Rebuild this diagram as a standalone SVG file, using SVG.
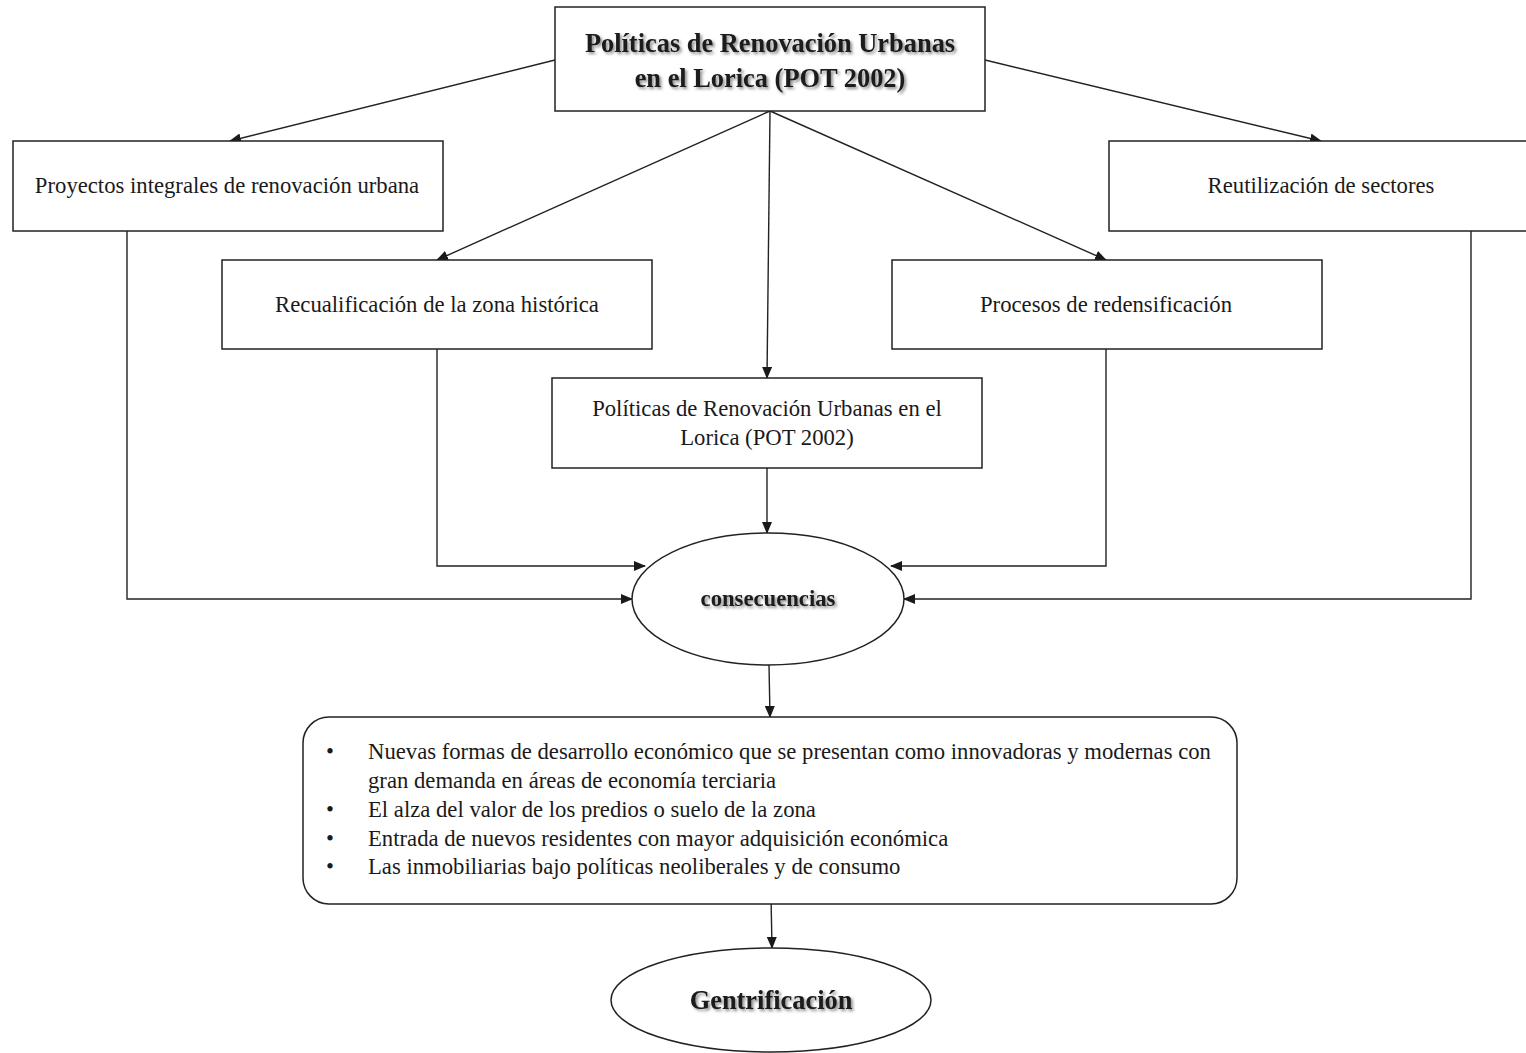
<svg xmlns="http://www.w3.org/2000/svg" width="1526" height="1053" viewBox="0 0 1526 1053">
<defs>
<marker id="arr" markerWidth="12" markerHeight="10" refX="11" refY="5" orient="auto" markerUnits="userSpaceOnUse">
<path d="M0,0 L12,5 L0,10 Z" fill="#1a1a1a"/>
</marker>
<filter id="sh" x="-10%" y="-30%" width="120%" height="160%">
<feDropShadow dx="2" dy="2" stdDeviation="1.5" flood-color="#000" flood-opacity="0.45"/>
</filter>
</defs>
<style>
.box{fill:#fff;stroke:#222;stroke-width:1.5}
.t{font-family:"Liberation Serif","Times New Roman",serif;font-size:22.7px;fill:#1a1a1a}
.c{text-anchor:middle}
.b{font-weight:bold;filter:url(#sh)}
.big{font-size:26.4px}
.con{fill:none;stroke:#222;stroke-width:1.4}
</style>
<rect width="1526" height="1053" fill="#fff"/>
<g id="connectors">
<line class="con" x1="555" y1="60" x2="230" y2="141" marker-end="url(#arr)"/>
<line class="con" x1="985" y1="60" x2="1321" y2="141" marker-end="url(#arr)"/>
<line class="con" x1="770" y1="111" x2="437" y2="260" marker-end="url(#arr)"/>
<line class="con" x1="770" y1="111" x2="1106" y2="260" marker-end="url(#arr)"/>
<line class="con" x1="770" y1="111" x2="767" y2="378" marker-end="url(#arr)"/>
<line class="con" x1="767" y1="468" x2="767" y2="533" marker-end="url(#arr)"/>
<polyline class="con" points="437,349 437,566 645,566" marker-end="url(#arr)"/>
<polyline class="con" points="127,231 127,599 632,599" marker-end="url(#arr)"/>
<polyline class="con" points="1106,349 1106,566 891,566" marker-end="url(#arr)"/>
<polyline class="con" points="1471,231 1471,599 904,599" marker-end="url(#arr)"/>
<line class="con" x1="769" y1="665" x2="770" y2="717" marker-end="url(#arr)"/>
<line class="con" x1="771" y1="896" x2="772" y2="948" marker-end="url(#arr)"/>
</g>
<g id="n-top">
<rect class="box" x="555" y="7" width="430" height="104"/>
<text class="t c b big" x="770" y="52">Políticas de Renovación Urbanas</text>
<text class="t c b big" x="770" y="87">en el Lorica (POT 2002)</text>
</g>
<g id="n-proyectos">
<rect class="box" x="13" y="141" width="430" height="90"/>
<text class="t c" x="227" y="193">Proyectos integrales de renovación urbana</text>
</g>
<g id="n-reutilizacion">
<rect class="box" x="1109" y="141" width="430" height="90"/>
<text class="t c" x="1321" y="193">Reutilización de sectores</text>
</g>
<g id="n-recualificacion">
<rect class="box" x="222" y="260" width="430" height="89"/>
<text class="t c" x="437" y="312">Recualificación de la zona histórica</text>
</g>
<g id="n-procesos">
<rect class="box" x="892" y="260" width="430" height="89"/>
<text class="t c" x="1106" y="312">Procesos de redensificación</text>
</g>
<g id="n-politicas">
<rect class="box" x="552" y="378" width="430" height="90"/>
<text class="t c" x="767" y="416">Políticas de Renovación Urbanas en el</text>
<text class="t c" x="767" y="445">Lorica (POT 2002)</text>
</g>
<g id="n-consecuencias">
<ellipse class="box" cx="768" cy="599" rx="136" ry="66"/>
<text class="t c b" x="768" y="606">consecuencias</text>
</g>
<g id="n-lista">
<rect class="box" x="303" y="717" width="934" height="187" rx="26" ry="26"/>
<text class="t" x="326" y="759">•</text>
<text class="t" x="368" y="759">Nuevas formas de desarrollo económico que se presentan como innovadoras y modernas con</text>
<text class="t" x="368" y="788">gran demanda en áreas de economía terciaria</text>
<text class="t" x="326" y="817">•</text>
<text class="t" x="368" y="817">El alza del valor de los predios o suelo de la zona</text>
<text class="t" x="326" y="846">•</text>
<text class="t" x="368" y="846">Entrada de nuevos residentes con mayor adquisición económica</text>
<text class="t" x="326" y="874">•</text>
<text class="t" x="368" y="874">Las inmobiliarias bajo políticas neoliberales y de consumo</text>
</g>
<g id="n-gentrificacion">
<ellipse class="box" cx="771" cy="1000" rx="160" ry="52"/>
<text class="t c b big" x="771" y="1009">Gentrificación</text>
</g>
</svg>
